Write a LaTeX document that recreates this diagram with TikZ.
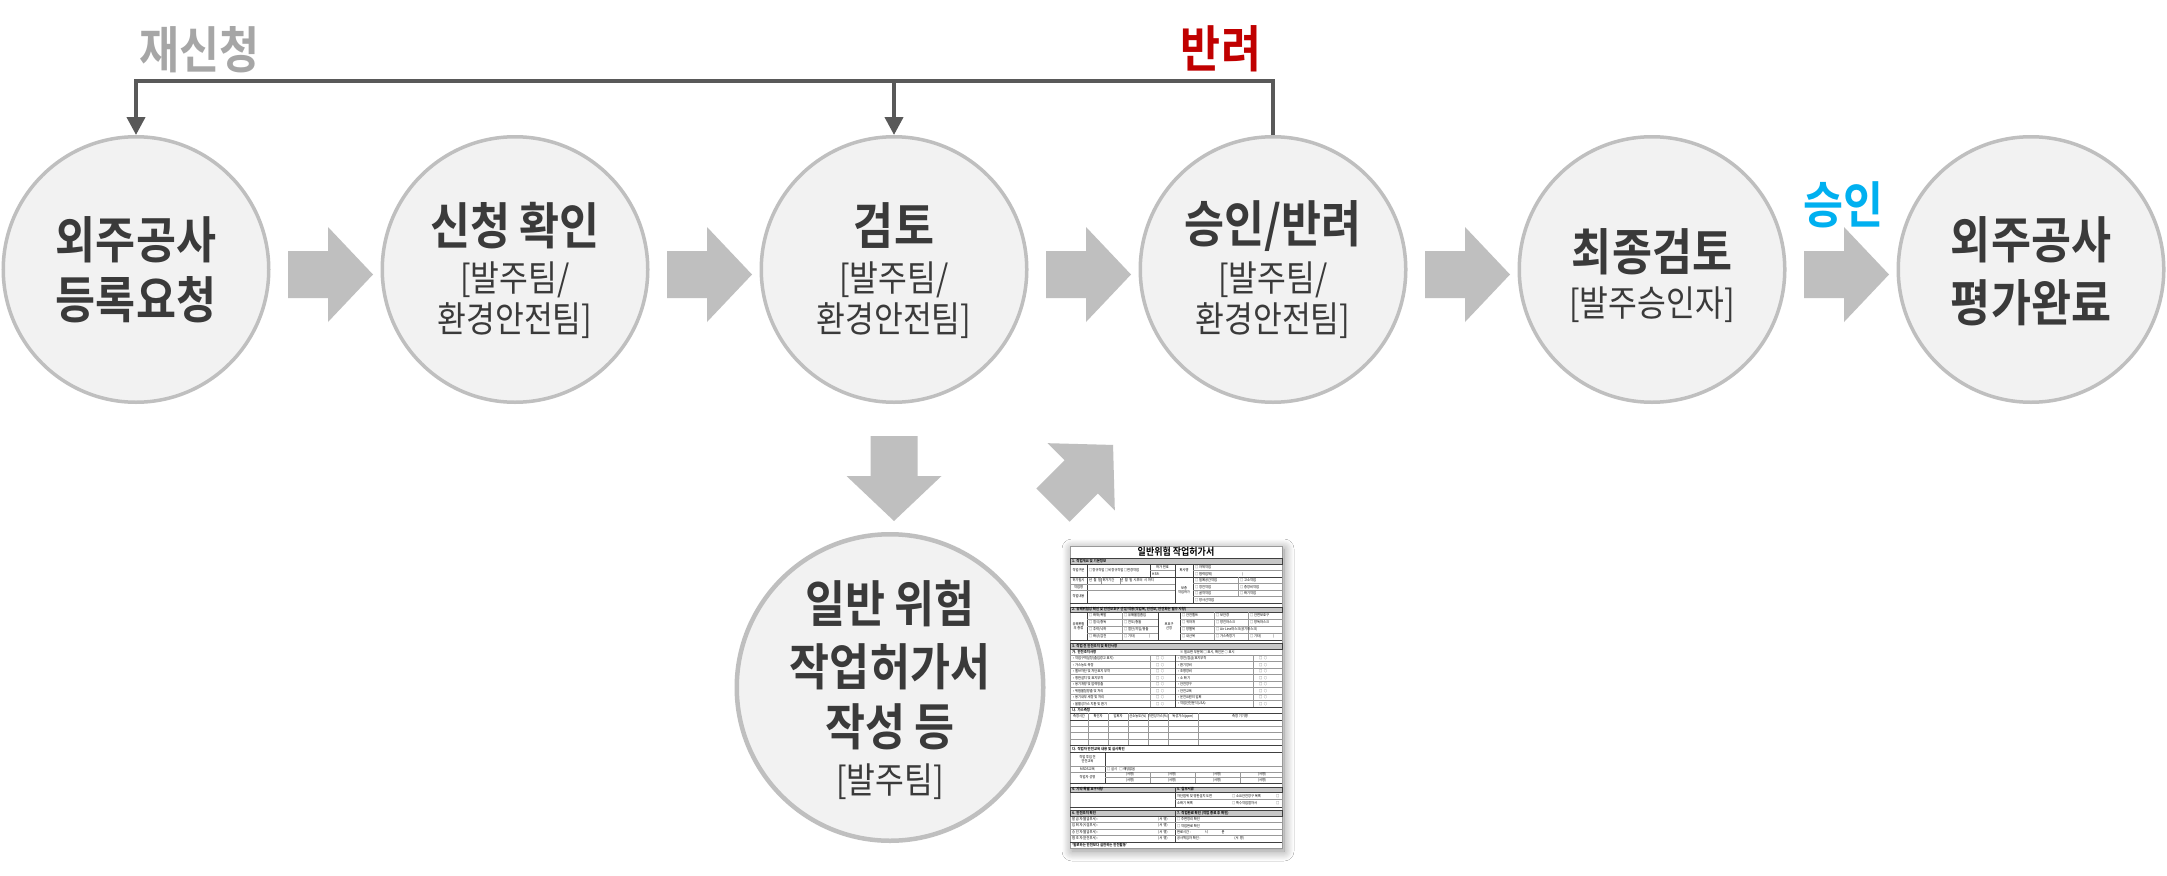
\documentclass[tikz,border=0pt]{standalone}
\usepackage{fontspec}
\usetikzlibrary{arrows.meta,shadows.blur}
\newfontfamily\krfont{Noto Sans CJK KR}[FakeStretch=0.87,BoldFont={* Bold}]
\newfontfamily\krform{Noto Sans CJK KR}[FakeStretch=0.9,BoldFont={* Bold}]
\definecolor{txt}{HTML}{3A3A3A}
\definecolor{cline}{HTML}{BFBFBF}
\definecolor{cfill}{HTML}{F2F2F2}
\definecolor{afill}{HTML}{BFBFBF}
\definecolor{fbc}{HTML}{595959}
\definecolor{regray}{HTML}{A6A6A6}
\definecolor{rejred}{HTML}{C00000}
\definecolor{okblue}{HTML}{00B0F0}
\tikzset{
  stage/.style={circle, draw=cline, line width=3.5pt, fill=cfill, minimum size=265.5pt, inner sep=0pt},
  bigstage/.style={stage, line width=4.5pt, minimum size=306.5pt},
  ttl/.style={font=\krfont\bfseries\fontsize{50}{60}\selectfont, text=txt, inner sep=0pt},
  sub/.style={font=\krfont\fontsize{36}{44}\selectfont, text=txt, inner sep=0pt},
  lab/.style={font=\krfont\bfseries\fontsize{50}{60}\selectfont, inner sep=0pt},
  fb/.style={draw=fbc, line width=4pt},
  ft/.style={font=\krform\fontsize{3.6}{4.1}\selectfont, text=black, inner sep=0pt, anchor=west},
  ftc/.style={font=\krform\fontsize{3.6}{4.1}\selectfont, text=black, inner sep=0pt, align=center},
  fh/.style={font=\krform\bfseries\fontsize{3.8}{4.2}\selectfont, text=black, inner sep=0pt, anchor=west},
  fl/.style={draw=black!75, line width=0.35pt},
  fll/.style={draw=black!40, line width=0.3pt},
  fbar/.style={fill=black!22, draw=black!75, line width=0.35pt},
  pics/barrow/.style={code={
    \fill[afill] (-42.5,-23.5) -- (-2.5,-23.5) -- (-2.5,-47.5) -- (42.5,0) -- (-2.5,47.5) -- (-2.5,23.5) -- (-42.5,23.5) -- cycle;}}
}
\begin{document}
\begin{tikzpicture}[x=1pt,y=-1pt]
\useasboundingbox (0,0) rectangle (2167,875);
\fill[white] (0,0) rectangle (2167,875);

% stages
\node[stage] (c1) at (136,269.5) {};
\node[stage] (c2) at (515,269.5) {};
\node[stage] (c3) at (894,269.5) {};
\node[stage] (c4) at (1273,269.5) {};
\node[stage] (c5) at (1652,269.5) {};
\node[stage] (c6) at (2031,269.5) {};
\node[bigstage] (c7) at (890,687.5) {};

\node[ttl] (c1a) at (136,239.5) {외주공사};
\node[ttl] (c1b) at (136,300) {등록요청};
\node[ttl] (c2a) at (515,226) {신청 확인};
\node[sub] (c2b) at (515,280) {[발주팀/};
\node[sub] (c2c) at (515,321) {환경안전팀]};
\node[ttl] (c3a) at (894,226) {검토};
\node[sub] (c3b) at (894,280) {[발주팀/};
\node[sub] (c3c) at (894,321) {환경안전팀]};
\node[ttl] (c4a) at (1273,226) {승인/반려};
\node[sub] (c4b) at (1273,280) {[발주팀/};
\node[sub] (c4c) at (1273,321) {환경안전팀]};
\node[ttl] (c5a) at (1652,252) {최종검토};
\node[sub] (c5b) at (1652,304.5) {[발주승인자]};
\node[ttl] (c6a) at (2031,240) {외주공사};
\node[ttl] (c6b) at (2031,302.5) {평가완료};
\node[ttl] (c7a) at (890,604) {일반 위험};
\node[ttl] (c7b) at (890,666.5) {작업허가서};
\node[ttl] (c7c) at (890,727) {작성 등};
\node[sub] (c7d) at (890,781.5) {[발주팀]};

% block arrows
\pic (a1) at (330.5,274.5) {barrow};
\pic (a2) at (709.5,274.5) {barrow};
\pic (a3) at (1088.5,274.5) {barrow};
\pic (a4) at (1467.5,274.5) {barrow};
\pic (a5) at (1846.5,274.5) {barrow};
\pic[rotate=-90] (ad) at (894,478.5) {barrow};
\pic[rotate=45] (ag) at (1083,475) {barrow};

% feedback connector
\coordinate (fbR) at (1273,81);
\coordinate (fbL) at (136,81);
\coordinate (fbM) at (894,81);
\draw[fb, -{Triangle[width=18pt,length=18pt]}] (c4.north) -- (fbR) -- (fbL) -- (c1.north);
\draw[fb, -{Triangle[width=18pt,length=18pt]}] (fbM) -- (c3.north);

\node[lab, text=regray] (lre) at (199.5,50) {재신청};
\node[lab, text=rejred] (lrj) at (1221,48.5) {반려};
\node[lab, text=okblue] (lok) at (1843,205) {승인};

% permit form thumbnail
\fill[white, draw=black!40, line width=0.4pt, blur shadow={shadow xshift=2pt, shadow yshift=-3pt, shadow blur radius=10pt, shadow blur steps=14, shadow opacity=45}] (1070,546) rectangle (1282,848);
\node[font=\krform\bfseries\fontsize{10}{12}\selectfont, inner sep=0pt] (ftitle) at (1176,552) {일반위험 작업허가서};
% section 1
\filldraw[fbar] (1070,558) rectangle (1282,564);
\draw[fl] (1070,577) -- (1282,577) (1070,603) -- (1282,603) (1087,564) -- (1087,603) (1150,564) -- (1150,577) (1175,564) -- (1175,603) (1193,564) -- (1193,603);
\draw[fll] (1150,570.5) -- (1175,570.5) (1193,570.5) -- (1282,570.5) (1070,584) -- (1175,584) (1070,590) -- (1175,590) (1193,583.5) -- (1282,583.5) (1193,590) -- (1282,590) (1193,596.5) -- (1282,596.5) (1238,577) -- (1238,596.5) (1101,577) -- (1101,584) (1120,577) -- (1120,584);
% section 2
\filldraw[fbar] (1070,607) rectangle (1282,612);
\draw[fl] (1070,640) -- (1282,640) (1087,612) -- (1087,640) (1158,612) -- (1158,640) (1180,612) -- (1180,640);
\draw[fll] (1087,619) -- (1158,619) (1087,626) -- (1158,626) (1087,633) -- (1158,633) (1180,619) -- (1282,619) (1180,626) -- (1282,626) (1180,633) -- (1282,633) (1122,612) -- (1122,640) (1214,612) -- (1214,640) (1248,612) -- (1248,640);
% section 3
\filldraw[fbar] (1070,643) rectangle (1282,649);
\draw[fll] (1070,655) -- (1282,655);
\foreach \k in {1,...,7} \draw[fll] (1070,655+6.5*\k) -- (1282,655+6.5*\k);
\draw[fl] (1070,707) -- (1282,707) (1175,655) -- (1175,707);
\draw[fll] (1150,655) -- (1150,707) (1253,655) -- (1253,707);
\draw[fl] (1070,713) -- (1282,713) (1070,720) -- (1282,720) (1070,745) -- (1282,745);
\draw[fll] (1070,726.25) -- (1282,726.25) (1070,732.5) -- (1282,732.5) (1070,738.75) -- (1282,738.75);
\foreach \x in {1088,1108,1128,1148,1168,1198} \draw[fll] (\x,713) -- (\x,745);
\draw[fl] (1070,752) -- (1282,752) (1070,783) -- (1282,783) (1105,752) -- (1105,783);
\draw[fll] (1070,766) -- (1282,766) (1070,772) -- (1282,772) (1105,777.5) -- (1282,777.5) (1150,772) -- (1150,783) (1195,772) -- (1195,783) (1240,772) -- (1240,783);
% sections 4-7
\filldraw[fbar] (1070,787) rectangle (1282,792);
\draw[fl] (1175,787) -- (1175,807) (1070,807) -- (1282,807);
\draw[fll] (1175,799.5) -- (1282,799.5);
\filldraw[fbar] (1070,810) rectangle (1282,816);
\draw[fl] (1175,810) -- (1175,842) (1070,842) -- (1282,842);
\draw[fll] (1070,822.5) -- (1282,822.5) (1070,829) -- (1282,829) (1070,835.5) -- (1282,835.5);

% form headers
\foreach \x/\y/\t [count=\k] in {1072/561/{1. 작업개요 및 기본정보}, 1072/609.5/{2. 유해위험성 확인 및 안전보호구 선정/착용(작업복, 안전모, 안전화는 필수 사항)}, 1072/646/{3. 작업 전 안전조치 및 확인사항}, 1072/652/{가. 안전조치사항}, 1072/710.5/{나. 가스측정}, 1072/749/{다. 작업자 안전교육 내용 및 실시확인}, 1072/789.5/{4. 기타 특별 요구사항}, 1177/789.5/{5. 첨부서류}, 1072/813/{6. 안전조치 확인}, 1177/813/{7. 작업완료 확인 (작업 종료 후 확인)}, 1072/845/{‘말로하는 안전보다 실천하는 안전활동’}}
  \node[fh, name=fh\k] at (\x,\y) {\t};

% form cell texts, left aligned
\foreach \x/\y/\t [count=\k] in {1089/570.5/{□정규작업 □비정규작업 □변경작업}, 1152/574/{HSR-}, 1195/567.5/{□ 자체작업}, 1195/574/{□ 협력업체(\hspace{30pt})}, 1089/580.5/{년\ \ 월\ \ 일\ \ 허가기간\hspace{6pt}년\ \ 월\ \ 일\ \ 시부터\ \ 시 까지}, 1195/580.5/{□ 밀폐공간작업}, 1195/587/{□ 정전작업}, 1195/593.5/{□ 굴착작업}, 1195/600/{□ 방사선작업}, 1240/580.5/{□ 고소작업}, 1240/587/{□ 중장비작업}, 1240/593.5/{□ 화기작업}, 1089/615.5/{□ 화재/폭발}, 1089/622.5/{□ 질식/중독}, 1089/629.5/{□ 추락/낙하}, 1089/636.5/{□ 화상/감전}, 1124/615.5/{□ 유해물질흡입}, 1124/622.5/{□ 전도/충돌}, 1124/629.5/{□ 절단/끼임/충돌}, 1124/636.5/{□ 기타(\hspace{14pt})}, 1182/615.5/{□ 안전벨트}, 1182/622.5/{□ 귀마개}, 1182/629.5/{□ 방열복}, 1182/636.5/{□ 내산복}, 1216/615.5/{□ 보안경}, 1216/622.5/{□ 방진마스크}, 1216/629.5/{□ Air Line마스크(공기마스크)}, 1216/636.5/{□ 가스측정기}, 1250/615.5/{□ 안면보호구}, 1250/622.5/{□ 방독마스크}, 1250/636.5/{□ 기타(\hspace{12pt})}, 1180/652/{※ 필요한 부분에 □ 표시, 확인은 ○ 표시}, 1107/769/{□ 실시\ \ \ □ 해당없음}, 1177/795.75/{차단범위 및 맹판설치 도면}, 1232/795.75/{□ 소요안전장구 목록}, 1276/795.75/{□}, 1177/803.25/{소화기 목록}, 1232/803.25/{□ 특수작업절차서}, 1276/803.25/{□}, 1072/819.25/{발 급 자(발급부서) :}, 1072/825.75/{입 회 자(시설부서) :}, 1072/832.25/{승 인 자(발급부서) :}, 1072/838.75/{협 조 자(안전부서) :}, 1158/819.25/{(서\ \ 명)}, 1158/825.75/{(서\ \ 명)}, 1158/832.25/{(서\ \ 명)}, 1158/838.75/{(서\ \ 명)}, 1177/819.25/{□ 주변정리 확인}, 1177/825.75/{□ 작업완료 확인}, 1177/832.25/{완료시간 :\hspace{14pt}시\hspace{14pt}분}, 1177/838.75/{공사책임자 확인 :\hspace{34pt}(서\ \ 명)}}
  \node[ft, name=fw\k] at (\x,\y) {\t};

% form cell texts, centred
\foreach \x/\y/\t [count=\k] in {1078.5/570.5/{작업구분}, 1162.5/567.5/{허가 번호}, 1184/570.5/{회사명}, 1078.5/580.5/{허가일시}, 1078.5/587/{작업명}, 1078.5/596.5/{작업내용}, 1184/590/{보충\\작업허가}, 1078.5/626/{유해위험\\의 종류}, 1169/626/{보호구\\선정}, 1079/716.5/{측정시간}, 1098/716.5/{확인자}, 1118/716.5/{입회자}, 1138/716.5/{산소농도(\%)}, 1158/716.5/{가연성가스(\%)}, 1183/716.5/{독성가스(ppm)}, 1240/716.5/{측정 기기명}, 1087.5/759/{작업 투입 전\\안전교육}, 1087.5/769/{MSDS교육}, 1087.5/777.5/{작업자 성명}, 1130/774.75/{(서명)}, 1172/774.75/{(서명)}, 1217/774.75/{(서명)}, 1262/774.75/{(서명)}, 1130/780.25/{(서명)}, 1172/780.25/{(서명)}, 1217/780.25/{(서명)}, 1262/780.25/{(서명)}}
  \node[ftc, name=fc\k] at (\x,\y) {\t};

% safety check items
\foreach \t [count=\k] in {{• 작업구역설정(출입경고 표지)}, {• 가스농도 측정}, {• 밸브차단 및 차단표지 부착}, {• 맹판설치 및 표지부착}, {• 용기개방 및 압력방출}, {• 위험물질방출 및 처리}, {• 용기내부 세정 및 처리}, {• 불활성가스 치환 및 환기}}
  \node[ft, name=fi\k] at (1073,651.75+6.5*\k) {\t};
\foreach \t [count=\k] in {{• 정전/잠금/표지부착}, {• 환기장비}, {• 조명장비}, {• 소 화 기}, {• 안전장구}, {• 안전교육}, {• 운전요원의 입회}, {• 작업안전분석(JSA)}}
  \node[ft, name=fj\k] at (1178,651.75+6.5*\k) {\t};
\foreach \k in {1,...,8} {
  \node[ft, name=fk\k] at (1156,651.75+6.5*\k) {□\ \ ○};
  \node[ft, name=fm\k] at (1259,651.75+6.5*\k) {□\ \ ○};
}
\end{tikzpicture}
\end{document}
